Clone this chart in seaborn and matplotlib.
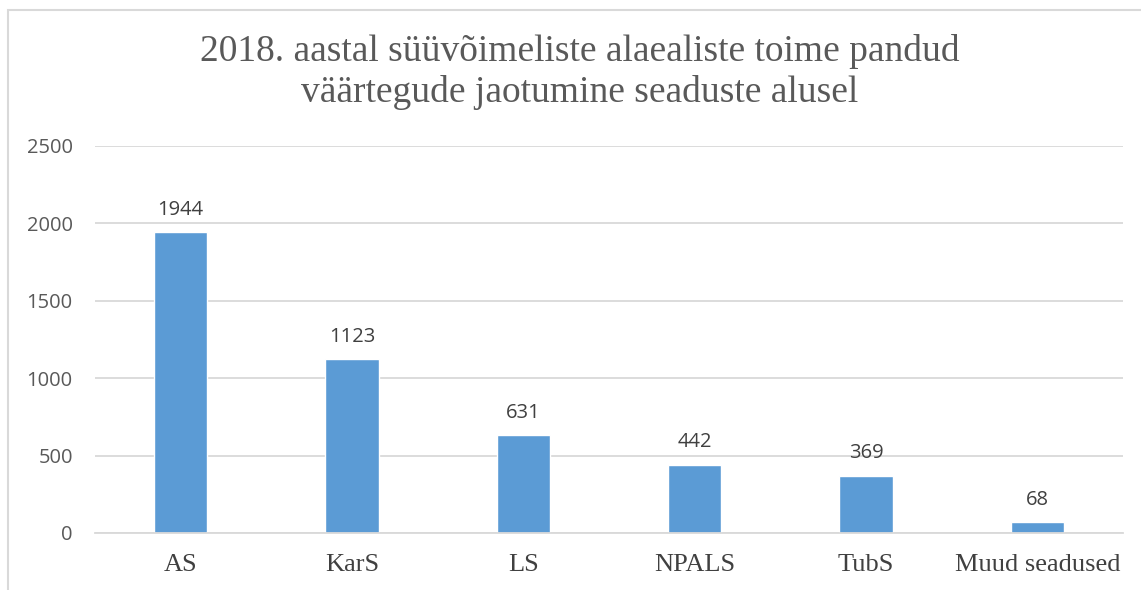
import matplotlib
matplotlib.use("Agg")
import matplotlib.pyplot as plt
import seaborn as sns
import pandas as pd
from matplotlib.patches import Rectangle

categories = ["AS", "KarS", "LS", "NPALS", "TubS", "Muud seadused"]
values = [1944, 1123, 631, 442, 369, 68]
yticks = [0, 500, 1000, 1500, 2000, 2500]
title = "2018. aastal süüvõimeliste alaealiste toime pandud\nväärtegude jaotumine seaduste alusel"

sns.set_theme(style="white")
plt.rcParams['font.family'] = ['Liberation Sans', 'DejaVu Sans']

df = pd.DataFrame({"cat": categories, "val": values})

fig = plt.figure(figsize=(11.41, 5.90), dpi=100)
ax = fig.add_axes([95/1141, 1-533/590, (1123-95)/1141, (533-146)/590])

sns.barplot(data=df, x="cat", y="val", color="#5B9BD5", width=0.31, ax=ax, saturation=1)

ax.set_ylim(0, 2500)
ax.set_yticks(yticks)
ax.set_yticklabels([str(t) for t in yticks], fontsize=14.5, color="#595959", family=['Open Sans', 'DejaVu Sans'])
ax.set_xticks(range(len(categories)))
ax.set_xticklabels(categories, fontsize=19, color="#404040", family=['Liberation Serif'])
ax.set_xlabel("")
ax.set_ylabel("")
ax.tick_params(axis='both', length=0)
ax.tick_params(axis='y', pad=16)
ax.tick_params(axis='x', pad=15)
ax.grid(axis='y', color="#D9D9D9", linewidth=1.3)
ax.set_axisbelow(True)
for s in ["top", "right", "left"]:
    ax.spines[s].set_visible(False)
ax.spines["bottom"].set_color("#D9D9D9")
ax.spines["bottom"].set_linewidth(1.3)

for c in ax.containers:
    ax.bar_label(c, labels=[str(v) for v in values], padding=9, fontsize=14.5,
                 color="#404040", family=['Open Sans', 'DejaVu Sans'])

fig.text(0.508, 1-72/590, title, ha="center", va="center", fontsize=27,
         color="#595959", family=['Liberation Serif'], linespacing=1.25)

fig.patches.append(Rectangle((8/1141, -0.1), 1.2, 1-10/590+0.1, transform=fig.transFigure,
                             fill=False, edgecolor="#D9D9D9", linewidth=1.5))

fig.savefig("out.png", dpi=100)
